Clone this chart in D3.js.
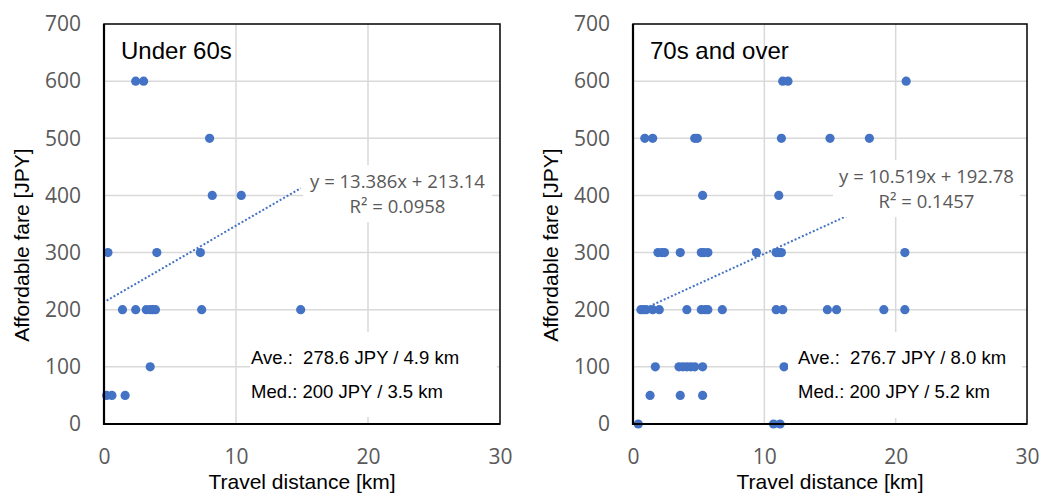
<!DOCTYPE html>
<html>
<head>
<meta charset="utf-8">
<script src="https://cdn.jsdelivr.net/npm/d3@7"></script>
<style>
  body { margin: 0; background: #ffffff; }
</style>
</head>
<body>
<script>
// ---- data ----
const xTicks = [0, 10, 20, 30];
const yTicks = [0, 100, 200, 300, 400, 500, 600, 700];

const titles = ["Under 60s", "70s and over"];

// [travel distance km, affordable fare JPY]
const under60Points = [
  [2.4, 600], [3.0, 600],
  [8.0, 500],
  [8.2, 400], [10.4, 400],
  [0.3, 300], [4.0, 300], [7.3, 300],
  [1.4, 200], [2.4, 200], [3.2, 200], [3.5, 200], [3.7, 200], [3.9, 200], [7.4, 200], [14.9, 200],
  [3.5, 100],
  [0.2, 50], [0.6, 50], [1.6, 50]
];

const over70Points = [
  [11.4, 600], [11.8, 600], [20.8, 600],
  [0.9, 500], [1.5, 500], [4.7, 500], [4.9, 500], [11.3, 500], [15.0, 500], [18.0, 500],
  [5.3, 400], [11.1, 400],
  [1.9, 300], [2.2, 300], [2.4, 300], [3.6, 300], [5.2, 300], [5.4, 300], [5.7, 300], [9.4, 300],
  [10.9, 300], [11.1, 300], [11.3, 300], [20.7, 300],
  [0.6, 200], [0.8, 200], [1.0, 200], [1.5, 200], [2.0, 200], [4.1, 200], [5.2, 200], [5.5, 200],
  [5.7, 200], [6.8, 200], [10.9, 200], [11.4, 200], [14.8, 200], [15.5, 200], [19.1, 200], [20.7, 200],
  [1.7, 100], [3.5, 100], [3.8, 100], [4.1, 100], [4.4, 100], [4.7, 100], [5.3, 100], [11.5, 100],
  [1.3, 50], [3.6, 50], [5.3, 50],
  [0.4, 0], [10.7, 0], [11.2, 0]
];

// trendline slope, intercept
const under60Trend = [13.386, 213.14];
const over70Trend = [10.519, 192.78];

const trendLabels = [
  ["y = 13.386x + 213.14", "R\u00b2 = 0.0958"],
  ["y = 10.519x + 192.78", "R\u00b2 = 0.1457"]
];
const statLabels = [
  ["Ave.:  278.6 JPY / 4.9 km", "Med.: 200 JPY / 3.5 km"],
  ["Ave.:  276.7 JPY / 8.0 km", "Med.: 200 JPY / 5.2 km"]
];

// ---- drawing ----
let canvasW = 1040;
let canvasH = 493;
let plotTop = 24, plotBottom = 424;
let blue = "#4472C4";
let grey = "#595959";
let sans = "'Liberation Sans', Arial, sans-serif";
let numFont = "'Open Sans', 'Liberation Sans', sans-serif";

let svg = d3.select("body").append("svg")
  .attr("width", canvasW)
  .attr("height", canvasH)
  .style("background-color", "#ffffff");

function drawPanel(i, points, trend, left, right, eqBox, statBox) {
  let x = d3.scaleLinear().domain([0, 30]).range([left, right]);
  let y = d3.scaleLinear().domain([0, 700]).range([plotBottom, plotTop]);
  let g = svg.append("g");

  // gridlines
  g.selectAll(".hgrid")
    .data(yTicks.slice(1, -1))
    .enter().append("line")
      .attr("x1", left).attr("x2", right)
      .attr("y1", d => y(d)).attr("y2", d => y(d))
      .attr("stroke", "#d9d9d9")
      .attr("stroke-width", 1.5);
  g.selectAll(".vgrid")
    .data(xTicks.slice(1, -1))
    .enter().append("line")
      .attr("x1", d => x(d)).attr("x2", d => x(d))
      .attr("y1", plotTop).attr("y2", plotBottom)
      .attr("stroke", "#d9d9d9")
      .attr("stroke-width", 1.5);

  // tick labels
  let ya = g.append("g")
    .attr("transform", `translate(${left},0)`)
    .call(d3.axisLeft(y).tickValues(yTicks).tickSize(0).tickPadding(23));
  ya.select(".domain").remove();
  ya.selectAll("text")
    .attr("font-family", numFont)
    .attr("font-size", "21px")
    .attr("fill", grey);

  let xa = g.append("g")
    .attr("transform", `translate(0,${plotBottom})`)
    .call(d3.axisBottom(x).tickValues(xTicks).tickSize(0).tickPadding(25));
  xa.select(".domain").remove();
  xa.selectAll("text")
    .attr("font-family", numFont)
    .attr("font-size", "21px")
    .attr("fill", grey);

  // points
  g.selectAll(".pt")
    .data(points)
    .enter().append("circle")
      .attr("cx", d => x(d[0]))
      .attr("cy", d => y(d[1]))
      .attr("r", 4.6)
      .attr("fill", blue);

  // linear trendline across the data range
  let ext = d3.extent(points, d => d[0]);
  let line = d3.line().x(d => x(d)).y(d => y(trend[0] * d + trend[1]));
  g.append("path")
    .attr("d", line(ext))
    .attr("fill", "none")
    .attr("stroke", blue)
    .attr("stroke-width", 2)
    .attr("stroke-dasharray", "2,2");

  // equation label
  g.append("rect")
    .attr("x", eqBox[0]).attr("y", eqBox[1])
    .attr("width", eqBox[2]).attr("height", eqBox[3])
    .attr("fill", "#ffffff");
  g.selectAll(".eq")
    .data(trendLabels[i])
    .enter().append("text")
      .attr("x", eqBox[0] + eqBox[2] / 2)
      .attr("y", (d, k) => eqBox[1] + 23 + k * 25)
      .attr("text-anchor", "middle")
      .attr("font-family", numFont)
      .attr("font-size", "18.5px")
      .attr("fill", grey)
      .text(d => d);

  // average / median label
  g.append("rect")
    .attr("x", statBox[0]).attr("y", statBox[1])
    .attr("width", statBox[2]).attr("height", statBox[3])
    .attr("fill", "#ffffff");
  g.selectAll(".st")
    .data(statLabels[i])
    .enter().append("text")
      .attr("x", statBox[0] + statBox[4])
      .attr("y", (d, k) => statBox[1] + 32 + k * 34)
      .attr("font-family", sans)
      .attr("font-size", "18.5px")
      .attr("fill", "#000000")
      .style("white-space", "pre")
      .text(d => d);

  // plot frame
  g.append("rect")
    .attr("x", left).attr("y", plotTop)
    .attr("width", right - left).attr("height", plotBottom - plotTop)
    .attr("fill", "none")
    .attr("stroke", "#000000")
    .attr("stroke-width", 1.5);
  g.append("path")
    .attr("d", `M${left},${plotTop}V${plotBottom}H${right}`)
    .attr("fill", "none")
    .attr("stroke", "#000000")
    .attr("stroke-width", 2.2);

  // panel title
  g.append("text")
    .attr("x", left + 17)
    .attr("y", 59)
    .attr("font-family", sans)
    .attr("font-size", "24px")
    .attr("fill", "#000000")
    .text(titles[i]);

  // axis titles
  g.append("text")
    .attr("x", (left + right) / 2)
    .attr("y", 489)
    .attr("text-anchor", "middle")
    .attr("font-family", sans)
    .attr("font-size", "21px")
    .attr("fill", "#000000")
    .text("Travel distance [km]");
  g.append("text")
    .attr("transform", `translate(${left - 75},245) rotate(-90)`)
    .attr("text-anchor", "middle")
    .attr("font-family", sans)
    .attr("font-size", "21px")
    .attr("fill", "#000000")
    .text("Affordable fare [JPY]");
}

drawPanel(0, under60Points, under60Trend, 104, 500, [303, 165, 189, 57], [250, 332, 247, 85, 1]);
drawPanel(1, over70Points, over70Trend, 633, 1027, [833, 160, 187, 57], [788, 332, 234, 86, 10]);
</script>
</body>
</html>
